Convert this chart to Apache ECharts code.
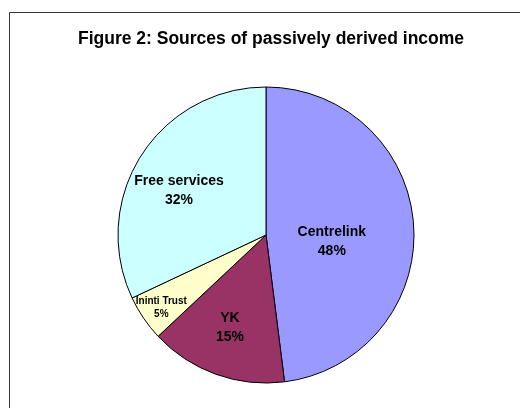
<!DOCTYPE html>
<html>
<head>
<meta charset="utf-8">
<script src="https://cdn.jsdelivr.net/npm/echarts@6/dist/echarts.min.js"></script>
<style>
html,body{margin:0;padding:0;background:#fff;}
#c{width:520px;height:408px;}
</style>
</head>
<body>
<div id="c"></div>
<script>
var titleText = 'Figure 2: Sources of passively derived income';
var categories = ['Centrelink', 'YK', 'Ininti Trust', 'Free services'];
var values = [48, 15, 5, 32];
var colors = ['#9999FF', '#993366', '#FFFFCC', '#CCFFFF'];

var labelShift = [[-11, 11], [-10, 20], [-41, 29], [-22, -3]];

var chart = echarts.init(document.getElementById('c'), null, {renderer: 'canvas'});
var data = categories.map(function (name, i) {
  var item = {name: name, value: values[i], itemStyle: {color: colors[i]}};
  if (i === 2) {
    item.label = {fontSize: 10, lineHeight: 13};
  }
  return item;
});
chart.setOption({
  animation: false,
  backgroundColor: '#fff',
  title: {
    text: titleText,
    left: 266,
    textAlign: 'center',
    top: 25,
    textStyle: {fontFamily: 'Liberation Sans', fontWeight: 'bold', fontSize: 17.5, color: '#000'}
  },
  graphic: [{
    type: 'polyline',
    shape: {points: [[9.5, 408], [9.5, 12.5], [520, 12.5]]},
    style: {stroke: '#333', lineWidth: 1, fill: null},
    silent: true
  }],
  series: [{
    type: 'pie',
    center: [266, 235],
    radius: [0, 148],
    startAngle: 90,
    clockwise: true,
    data: data,
    itemStyle: {borderColor: '#000', borderWidth: 1},
    emphasis: {disabled: true},
    label: {
      show: true,
      position: 'inside',
      formatter: '{b}\n{d}%',
      fontFamily: 'Liberation Sans',
      fontWeight: 'bold',
      fontSize: 14,
      lineHeight: 19,
      color: '#000',
      align: 'center'
    },
    labelLine: {show: false},
    labelLayout: function (params) {
      var s = labelShift[params.dataIndex];
      return {dx: s[0], dy: s[1]};
    }
  }]
});
</script>
</body>
</html>
